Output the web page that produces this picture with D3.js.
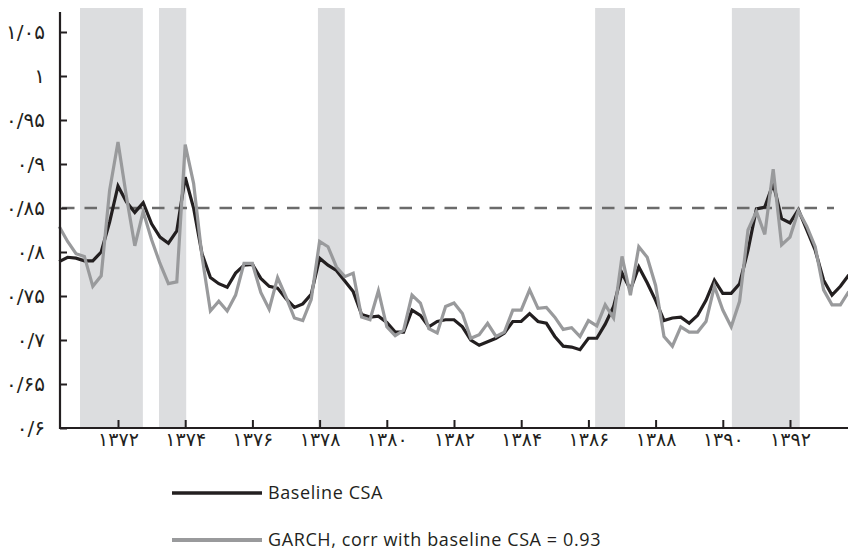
<!DOCTYPE html>
<html>
<head>
<meta charset="utf-8">
<script src="https://cdn.jsdelivr.net/npm/d3@7"></script>
<style>
  body { margin: 0; background: #fff; }
  .tick text { font-family: "DejaVu Sans", sans-serif; }
</style>
</head>
<body>
<div id="chart"></div>
<script>

// quarterly series, first point 1370 Q2
var startYear = 1370.25;
var baseline = [
  0.789, 0.794, 0.793, 0.790, 0.790, 0.800, 0.834, 0.875, 0.857, 0.845,
  0.856, 0.832, 0.817, 0.810, 0.824, 0.885, 0.850, 0.798, 0.771, 0.764,
  0.760, 0.776, 0.785, 0.786, 0.770, 0.761, 0.759, 0.747, 0.737, 0.741,
  0.752, 0.793, 0.785, 0.779, 0.767, 0.755, 0.729, 0.726, 0.727, 0.720,
  0.709, 0.709, 0.734, 0.728, 0.715, 0.721, 0.723, 0.723, 0.715, 0.700,
  0.694, 0.698, 0.702, 0.708, 0.721, 0.721, 0.730, 0.721, 0.719, 0.704,
  0.693, 0.692, 0.689, 0.702, 0.702, 0.718, 0.738, 0.776, 0.757, 0.783,
  0.765, 0.745, 0.722, 0.725, 0.726, 0.719, 0.728, 0.745, 0.768, 0.753,
  0.753, 0.764, 0.802, 0.849, 0.851, 0.878, 0.838, 0.833, 0.848, 0.825,
  0.802, 0.768, 0.751, 0.761, 0.774
];
var garch = [
  0.829, 0.812, 0.798, 0.795, 0.761, 0.773, 0.870, 0.925, 0.863, 0.807,
  0.846, 0.814, 0.787, 0.764, 0.766, 0.922, 0.878, 0.795, 0.733, 0.744,
  0.733, 0.751, 0.787, 0.787, 0.754, 0.735, 0.771, 0.749, 0.725, 0.722,
  0.746, 0.812, 0.806, 0.783, 0.772, 0.776, 0.726, 0.723, 0.756, 0.715,
  0.705, 0.711, 0.751, 0.742, 0.713, 0.708, 0.738, 0.742, 0.730, 0.702,
  0.706, 0.719, 0.704, 0.709, 0.734, 0.734, 0.757, 0.736, 0.737, 0.726,
  0.712, 0.714, 0.704, 0.722, 0.716, 0.740, 0.725, 0.795, 0.751, 0.806,
  0.794, 0.762, 0.704, 0.693, 0.715, 0.709, 0.709, 0.721, 0.761, 0.734,
  0.715, 0.744, 0.825, 0.846, 0.820, 0.894, 0.808, 0.817, 0.847, 0.829,
  0.806, 0.757, 0.740, 0.740, 0.755
];
var bands = [
  [1370.87, 1372.74],
  [1373.22, 1374.03],
  [1377.95, 1378.75],
  [1386.2, 1387.09],
  [1390.27, 1392.29]
];
var threshold = 0.85;
var xTicks = [1372, 1374, 1376, 1378, 1380, 1382, 1384, 1386, 1388, 1390, 1392];
var xLabels = ["۱۳۷۲", "۱۳۷۴", "۱۳۷۶", "۱۳۷۸", "۱۳۸۰", "۱۳۸۲", "۱۳۸۴", "۱۳۸۶", "۱۳۸۸", "۱۳۹۰", "۱۳۹۲"];
var yTicks = [0.6, 0.65, 0.7, 0.75, 0.8, 0.85, 0.9, 0.95, 1, 1.05];
var yLabels = ["۰/۶", "۰/۶۵", "۰/۷", "۰/۷۵", "۰/۸", "۰/۸۵", "۰/۹", "۰/۹۵", "۱", "۱/۰۵"];
var legendNames = ["Baseline CSA", "GARCH, corr with baseline CSA = 0.93"];

var black = "#231f20";
var grey = "#999a9c";

var width = 848, height = 552;
var plotLeft = 60, plotRight = 848, plotTop = 8, plotBottom = 428;

var svg = d3.select("#chart").append("svg")
  .attr("width", width)
  .attr("height", height);

var x = d3.scaleLinear().domain([1370.25, 1393.75]).range([59.2, 848.8]);
var y = d3.scaleLinear().domain([0.6, 1.05]).range([plotBottom, 32]);

function year(i) { return startYear + i * 0.25; }

svg.append("g")
  .selectAll("rect")
  .data(bands)
  .enter()
  .append("rect")
  .attr("x", function(d){ return x(d[0]); })
  .attr("width", function(d){ return x(d[1]) - x(d[0]); })
  .attr("y", plotTop)
  .attr("height", plotBottom - plotTop)
  .style("fill", "#dcdddf");

svg.append("line")
  .attr("x1", plotLeft + 2).attr("x2", 834)
  .attr("y1", y(threshold)).attr("y2", y(threshold))
  .style("stroke", "#6b6b6b")
  .style("stroke-width", 2.5)
  .style("stroke-dasharray", "12.5,10");

var line = d3.line()
  .x(function(d, i){ return x(year(i)); })
  .y(function(d){ return y(d); });

svg.append("path")
  .datum(baseline)
  .attr("d", line)
  .style("fill", "none")
  .style("stroke", black)
  .style("stroke-width", 3.2);

svg.append("path")
  .datum(garch)
  .attr("d", line)
  .style("fill", "none")
  .style("stroke", grey)
  .style("stroke-width", 3.2);

// axes
var yAxis = d3.axisLeft(y)
  .tickValues(yTicks)
  .tickFormat(function(d, i){ return yLabels[i]; })
  .tickSizeInner(-7)
  .tickSizeOuter(0)
  .tickPadding(15);

var gy = svg.append("g")
  .attr("transform", "translate(" + plotLeft + ",0)")
  .call(yAxis);
gy.select(".domain").remove();
gy.selectAll(".tick line").style("stroke", black).style("stroke-width", 2);
gy.selectAll(".tick text")
  .style("font-size", "20px")
  .style("fill", black);

var xAxis = d3.axisBottom(x)
  .tickValues(xTicks)
  .tickFormat(function(d, i){ return xLabels[i]; })
  .tickSizeInner(-8)
  .tickSizeOuter(0)
  .tickPadding(4);

var gx = svg.append("g")
  .attr("transform", "translate(0," + plotBottom + ")")
  .call(xAxis);
gx.select(".domain").remove();
gx.selectAll(".tick line").style("stroke", black).style("stroke-width", 2);
gx.selectAll(".tick text")
  .style("font-size", "19px")
  .style("fill", black);

svg.append("line")
  .attr("x1", plotLeft).attr("x2", plotLeft)
  .attr("y1", 12).attr("y2", plotBottom + 1)
  .style("stroke", black)
  .style("stroke-width", 2.2);
svg.append("line")
  .attr("x1", plotLeft - 1).attr("x2", plotRight)
  .attr("y1", plotBottom).attr("y2", plotBottom)
  .style("stroke", black)
  .style("stroke-width", 2.2);

// legend
var legend = svg.append("g")
  .selectAll("g")
  .data([black, grey])
  .enter()
  .append("g")
  .attr("transform", function(d, i){ return "translate(172," + (493 + i * 47) + ")"; });

legend.append("line")
  .attr("x1", 0).attr("x2", 90)
  .style("stroke", function(d){ return d; })
  .style("stroke-width", function(d, i){ return i ? 4 : 3.5; });

legend.append("text")
  .attr("x", 96)
  .attr("dy", "0.35em")
  .text(function(d, i){ return legendNames[i]; })
  .style("font-family", "'Open Sans', sans-serif")
  .style("font-size", "18px")
  .style("letter-spacing", "0.6px")
  .style("fill", black);

</script>
</body>
</html>
